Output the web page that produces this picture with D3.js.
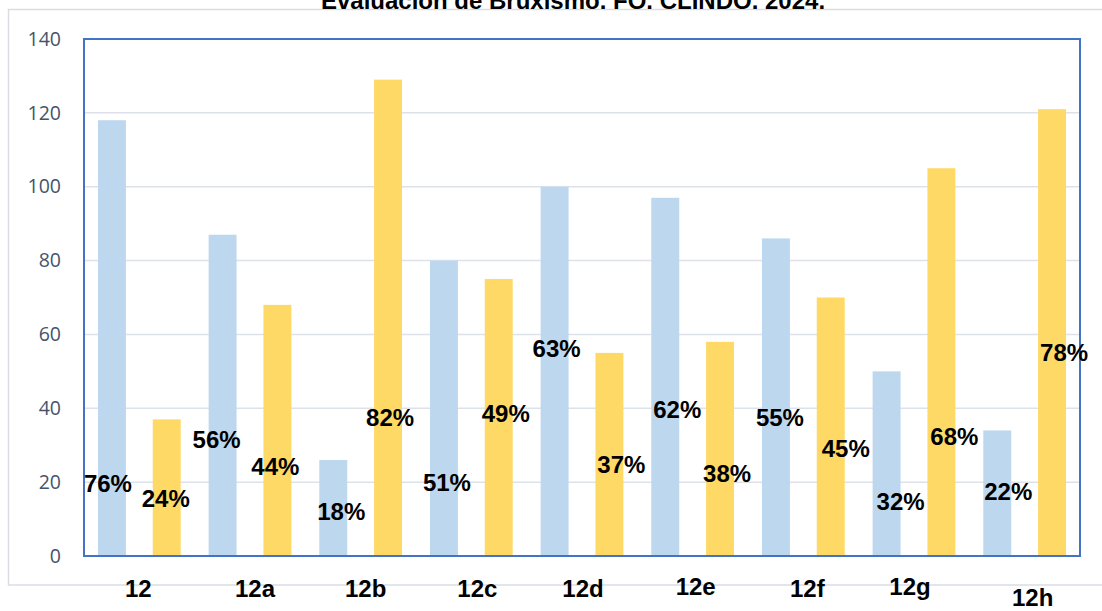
<!DOCTYPE html>
<html>
<head>
<meta charset="utf-8">
<script src="https://cdn.jsdelivr.net/npm/d3@7"></script>
<style>
  html, body { margin: 0; padding: 0; background: #fff; }
  svg { display: block; }
</style>
</head>
<body>
<svg id="chart" width="1102" height="611"></svg>
<script>
// ---- data ----
const title = "Evaluación de Bruxismo. FO. CLINDO. 2024.";
const categories = ["12", "12a", "12b", "12c", "12d", "12e", "12f", "12g", "12h"];
const seriesNames = ["A", "B"];
const seriesA = [118, 87, 26, 80, 100, 97, 86, 50, 34];
const seriesB = [37, 68, 129, 75, 55, 58, 70, 105, 121];
const labelsA = ["76%", "56%", "18%", "51%", "63%", "62%", "55%", "32%", "22%"];
const labelsB = ["24%", "44%", "82%", "49%", "37%", "38%", "45%", "68%", "78%"];
const yTicks = [0, 20, 40, 60, 80, 100, 120, 140];

// ---- layout (manual label placement as in the original) ----
const labelDxA = [-4, -6, 8, 3, 2, 12, 4, 14, 11];
const labelYA  = [492, 448, 520, 491, 357, 418, 426, 510, 500];
const labelDxB = [-1, -2, 2, 7, 12, 7, 15, 13, 12];
const labelYB  = [507, 475, 426, 422, 473, 482, 457, 445, 361];
const catDx = [-1, 5, 5, 6, 1, 3, 4, -4, 8];
const catY  = [597, 597, 597, 597, 597, 595, 597, 595, 606];

const colors = { A: "#bdd7ee", B: "#ffd966" };

const svg = d3.select("#chart");
const plot = { left: 84, right: 1080, top: 39, bottom: 556 };

const x = d3.scaleBand().domain(categories).range([plot.left, plot.right]).padding(0);
const xs = d3.scaleBand().domain(seriesNames).range([0, x.bandwidth()])
  .paddingInner(0.49).paddingOuter(0.255);
const y = d3.scaleLinear().domain([0, 140]).range([plot.bottom, plot.top]);

// outer chart frame
svg.append("rect")
  .attr("x", 8.5).attr("y", 9.5).attr("width", 1100).attr("height", 575.5)
  .attr("fill", "#fff").attr("stroke", "#d9dde3").attr("stroke-width", 1.5);

// title
svg.append("text")
  .attr("x", 573).attr("y", 9)
  .attr("text-anchor", "middle")
  .attr("font-family", "Liberation Sans, Arial, sans-serif")
  .attr("font-weight", "bold").attr("font-size", 24)
  .attr("fill", "#000")
  .text(title);

// gridlines
svg.append("g")
  .selectAll("line").data(yTicks.filter(d => d > 0))
  .join("line")
  .attr("x1", plot.left).attr("x2", plot.right)
  .attr("y1", d => y(d)).attr("y2", d => y(d))
  .attr("stroke", "#dde2ea").attr("stroke-width", 1.5);

// y axis labels
const yAxis = d3.axisLeft(y).tickValues(yTicks).tickSize(0).tickPadding(23);
const ya = svg.append("g").attr("transform", `translate(${plot.left},0)`).call(yAxis);
ya.select(".domain").remove();
ya.selectAll("text")
  .attr("font-family", "Open Sans, sans-serif")
  .attr("font-size", 19.5)
  .attr("fill", "#44546a");

// bars
const rows = categories.map((c, i) => ({ c, i, A: seriesA[i], B: seriesB[i] }));
const groups = svg.append("g").selectAll("g").data(rows).join("g")
  .attr("transform", d => `translate(${x(d.c)},0)`);
seriesNames.forEach(s => {
  groups.append("rect")
    .attr("x", xs(s))
    .attr("width", xs.bandwidth())
    .attr("y", d => y(d[s]))
    .attr("height", d => y(0) - y(d[s]))
    .attr("fill", colors[s]);
});

// plot border
svg.append("rect")
  .attr("x", plot.left).attr("y", plot.top)
  .attr("width", plot.right - plot.left).attr("height", plot.bottom - plot.top)
  .attr("fill", "none").attr("stroke", "#4472c4").attr("stroke-width", 2);

// percentage labels
const lab = svg.append("g")
  .attr("font-family", "Liberation Sans, Arial, sans-serif")
  .attr("font-weight", "bold").attr("font-size", 24)
  .attr("text-anchor", "middle").attr("fill", "#000");
rows.forEach(d => {
  lab.append("text")
    .attr("x", x(d.c) + xs("A") + xs.bandwidth() / 2 + labelDxA[d.i])
    .attr("y", labelYA[d.i])
    .text(labelsA[d.i]);
  lab.append("text")
    .attr("x", x(d.c) + xs("B") + xs.bandwidth() / 2 + labelDxB[d.i])
    .attr("y", labelYB[d.i])
    .text(labelsB[d.i]);
});

// category labels
svg.append("g")
  .attr("font-family", "Liberation Sans, Arial, sans-serif")
  .attr("font-weight", "bold").attr("font-size", 24)
  .attr("text-anchor", "middle").attr("fill", "#000")
  .selectAll("text").data(rows).join("text")
  .attr("x", d => x(d.c) + x.bandwidth() / 2 + catDx[d.i])
  .attr("y", d => catY[d.i])
  .text(d => d.c);
</script>
</body>
</html>
